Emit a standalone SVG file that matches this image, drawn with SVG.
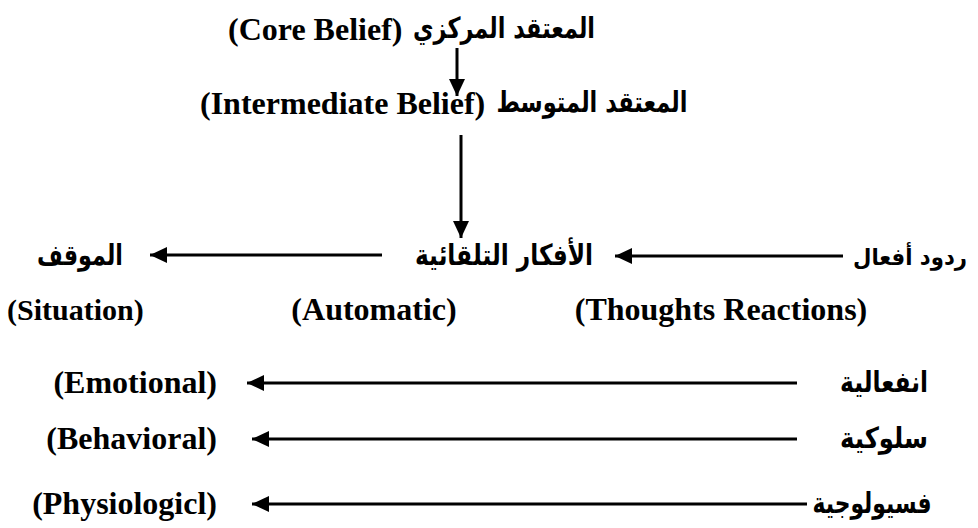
<svg xmlns="http://www.w3.org/2000/svg" width="978" height="528" viewBox="0 0 978 528">
<style>
.en{font-family:"Liberation Serif","Times New Roman",serif;font-weight:bold;font-size:32px;fill:#000;direction:ltr}
.ar{font-family:"DejaVu Sans","Noto Sans",sans-serif;font-weight:bold;font-size:29px;fill:#000;direction:rtl}
.ln{stroke:#000;stroke-width:3;fill:none}
</style>
<defs>
<marker id="ah" markerUnits="userSpaceOnUse" markerWidth="18" markerHeight="16" refX="17" refY="8" orient="auto">
<path d="M0,0 L17,8 L0,16 z" fill="#000"/>
</marker>
</defs>
<rect width="978" height="528" fill="#fff"/>
<g id="connectors">
<line class="ln" x1="457" y1="48" x2="457" y2="96" marker-end="url(#ah)"/>
<line class="ln" x1="461" y1="135" x2="461" y2="238" marker-end="url(#ah)"/>
<line class="ln" x1="843" y1="256" x2="615" y2="256" marker-end="url(#ah)"/>
<line class="ln" x1="382" y1="255" x2="150" y2="255" marker-end="url(#ah)"/>
<line class="ln" x1="797" y1="383" x2="247" y2="383" marker-end="url(#ah)"/>
<line class="ln" x1="797" y1="439" x2="252" y2="439" marker-end="url(#ah)"/>
<line class="ln" x1="807" y1="504" x2="252" y2="504" marker-end="url(#ah)"/>
</g>
<g id="core-belief">
<text class="ar" x="504" y="38" text-anchor="middle" textLength="182" lengthAdjust="spacingAndGlyphs">المعتقد المركزي</text>
<text class="en" x="228" y="40">(Core Belief)</text>
</g>
<g id="intermediate-belief">
<text class="ar" x="592" y="112" text-anchor="middle" textLength="191" lengthAdjust="spacingAndGlyphs">المعتقد المتوسط</text>
<text class="en" x="200" y="114">(Intermediate Belief)</text>
</g>
<g id="reactions">
<text class="ar" x="910" y="265" text-anchor="middle" textLength="114" lengthAdjust="spacingAndGlyphs" style="font-size:23px">ردود أفعال</text>
<text class="en" x="721" y="320" text-anchor="middle">(Thoughts Reactions)</text>
</g>
<g id="automatic-thoughts">
<text class="ar" x="504" y="265" text-anchor="middle" textLength="178" lengthAdjust="spacingAndGlyphs">الأفكار التلقائية</text>
<text class="en" x="374" y="320" text-anchor="middle">(Automatic)</text>
</g>
<g id="situation">
<text class="ar" x="80" y="265" text-anchor="middle" textLength="86" lengthAdjust="spacingAndGlyphs">الموقف</text>
<text class="en" x="7" y="320" style="font-size:30px">(Situation)</text>
</g>
<g id="emotional">
<text class="ar" x="884" y="392" text-anchor="middle" textLength="88" lengthAdjust="spacingAndGlyphs">انفعالية</text>
<text class="en" x="217" y="393" text-anchor="end">(Emotional)</text>
</g>
<g id="behavioral">
<text class="ar" x="884" y="448" text-anchor="middle" textLength="88" lengthAdjust="spacingAndGlyphs">سلوكية</text>
<text class="en" x="217" y="449" text-anchor="end">(Behavioral)</text>
</g>
<g id="physiological">
<text class="ar" x="872" y="513" text-anchor="middle" textLength="119" lengthAdjust="spacingAndGlyphs">فسيولوجية</text>
<text class="en" x="217" y="514" text-anchor="end">(Physiologicl)</text>
</g>
</svg>
